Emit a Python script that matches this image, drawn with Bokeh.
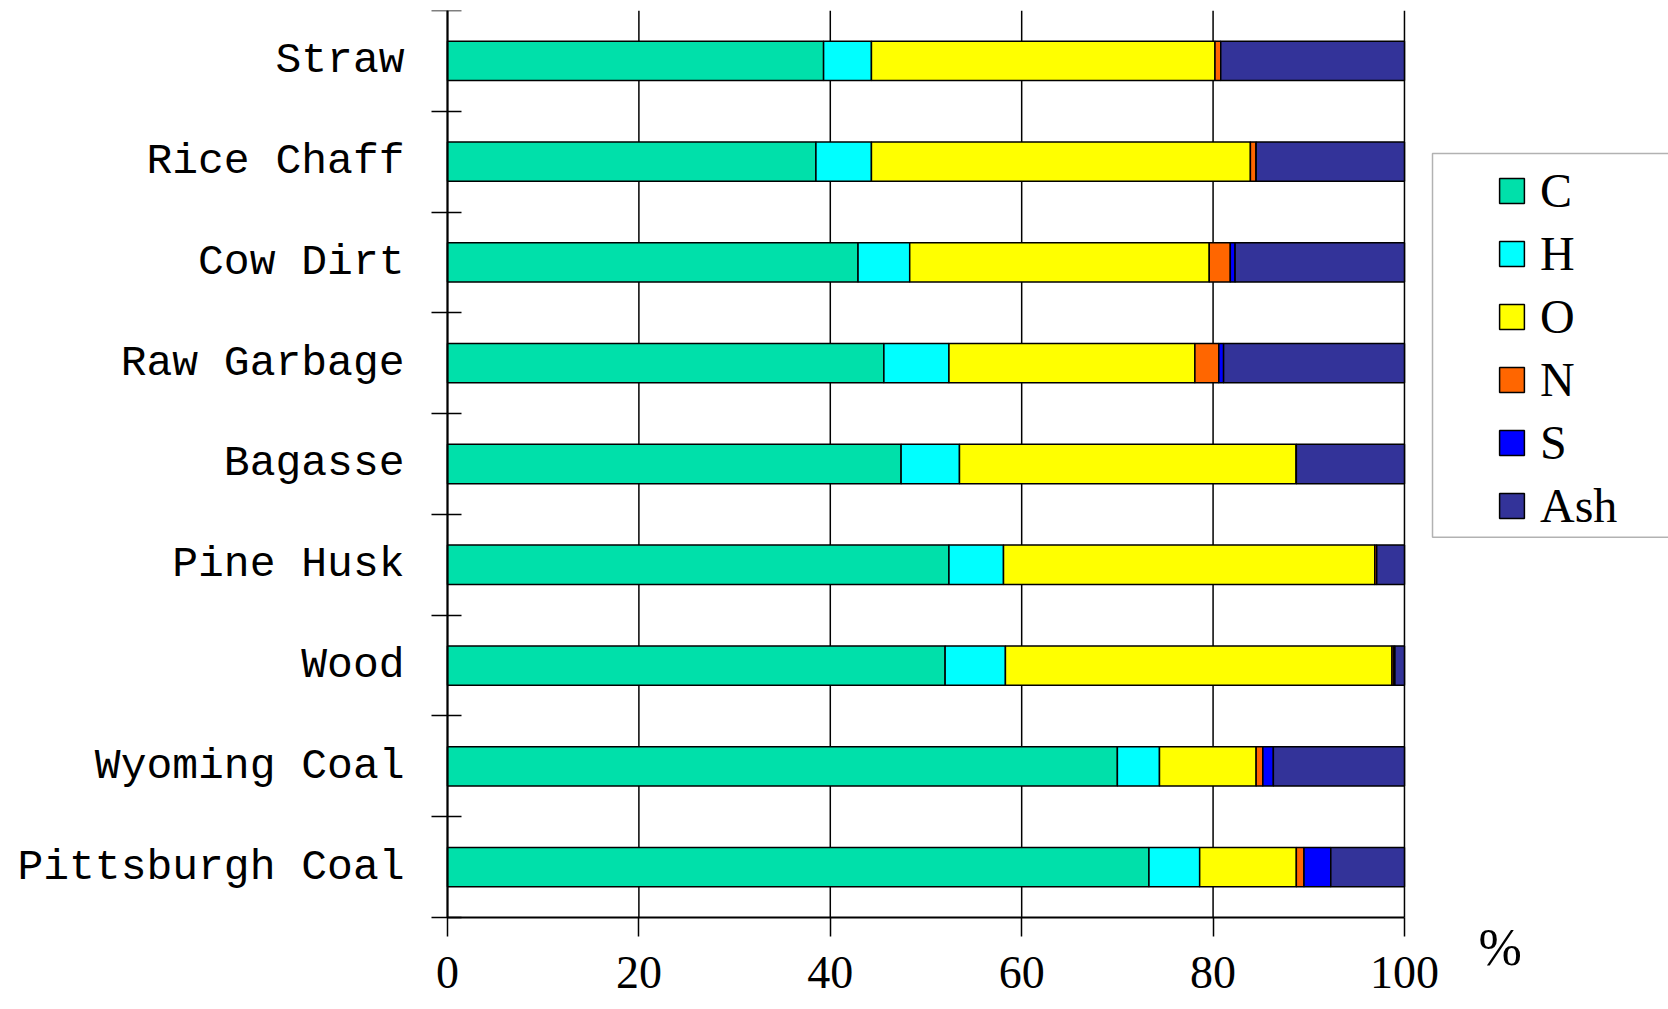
from bokeh.plotting import figure
from bokeh.models import (ColumnDataSource, Range1d, LinearAxis, FixedTicker, Legend,
                          LegendItem, Label, BoxAnnotation)
from bokeh.embed import file_html
from bokeh.resources import INLINE

# ---------------- data ----------------
categories = ["Straw", "Rice Chaff", "Cow Dirt", "Raw Garbage", "Bagasse",
              "Pine Husk", "Wood", "Wyoming Coal", "Pittsburgh Coal"]
elements = ["C", "H", "O", "N", "S", "Ash"]
carbon   = [39.3, 38.5, 42.9, 45.6, 47.4, 52.4, 52.0, 70.0, 73.3]
hydrogen = [5.0, 5.8, 5.4, 6.8, 6.1, 5.7, 6.3, 4.4, 5.3]
oxygen   = [35.9, 39.6, 31.3, 25.7, 35.2, 38.8, 40.4, 10.1, 10.1]
nitrogen = [0.6, 0.6, 2.2, 2.5, 0.0, 0.2, 0.2, 0.7, 0.8]
sulfur   = [0.0, 0.0, 0.5, 0.5, 0.0, 0.0, 0.1, 1.1, 2.8]
ash      = [19.2, 15.5, 17.7, 18.9, 11.3, 2.9, 1.0, 13.7, 7.7]
x_ticks = [0, 20, 40, 60, 80, 100]
x_unit = "%"
colors = ["#00E0AA", "#00FFFF", "#FFFF00", "#FF6600", "#0000FF", "#333399"]

# category slots: first category on top
n = len(categories)
slots = list(range(n - 1, -1, -1))
bounds_y = [i - 0.5 for i in range(n + 1)]

source = ColumnDataSource(dict(slot=slots, cat=categories, C=carbon, H=hydrogen, O=oxygen,
                               N=nitrogen, S=sulfur, Ash=ash))

LABEL_FONT = "Liberation Mono"
SERIF = "Liberation Serif"

p = figure(width=1668, height=1009,
           x_range=Range1d(-46.71, 127.59),
           y_range=Range1d(-1.413, n - 0.5),
           output_backend="svg", toolbar_location=None,
           x_axis_location="below", y_axis_location=None,
           min_border_left=0, min_border_right=0,
           min_border_top=10, min_border_bottom=0)
p.outline_line_color = None
p.background_fill_color = "white"
p.border_fill_color = "white"
p.xgrid.visible = False
p.ygrid.visible = False

# x axis, sitting on the lowest category boundary
xa = p.xaxis[0]
xa.fixed_location = -0.5
xa.bounds = (0, 100)
xa.ticker = FixedTicker(ticks=x_ticks)
xa.major_tick_out = 19
xa.major_tick_in = 0
xa.minor_tick_line_color = None
xa.axis_line_color = "black"
xa.axis_line_width = 2
xa.major_tick_line_color = "black"
xa.major_tick_line_width = 1.5
xa.major_label_text_font = SERIF
xa.major_label_text_font_size = "46px"
xa.major_label_text_color = "black"
xa.major_label_standoff = 21

# y axis at x = 0: labels at category centres, ticks on category boundaries
ya = LinearAxis(ticker=FixedTicker(ticks=slots, minor_ticks=bounds_y),
                fixed_location=0,
                bounds=(-0.5, n - 0.5),
                major_label_overrides={s: c for s, c in zip(slots, categories)},
                major_tick_line_color=None, major_tick_out=0, major_tick_in=0,
                minor_tick_out=16, minor_tick_in=14,
                minor_tick_line_color="black", minor_tick_line_width=1.5,
                axis_line_color="black", axis_line_width=2,
                major_label_standoff=27,
                major_label_text_font=LABEL_FONT,
                major_label_text_font_size="43px",
                major_label_text_color="black")
p.add_layout(ya, "left")

# vertical grid lines at the x ticks, between the outer category boundaries
p.segment(x0=x_ticks, y0=[-0.5] * len(x_ticks), x1=x_ticks, y1=[n - 0.5] * len(x_ticks),
          line_color="black", line_width=1.5)

renderers = p.hbar_stack(elements, y="slot", height=0.39, color=colors,
                         line_color="black", line_width=1.5, source=source)

legend = Legend(items=[LegendItem(label=e, renderers=[r]) for e, r in zip(elements, renderers)],
                location=(1496, 476), padding=0, margin=0,
                border_line_color=None, background_fill_color=None,
                glyph_width=31, glyph_height=31, label_height=31, spacing=8,
                label_standoff=13, label_text_font=SERIF, label_text_font_size="48px",
                label_text_color="black")
p.add_layout(legend, "center")

box = BoxAnnotation(left=102.93, right=200, top=7.081, bottom=3.272,
                    fill_color=None, line_color="black", line_width=1.5)
p.add_layout(box)

pct = Label(x=110.0, y=-0.796, text=x_unit, text_font=SERIF,
            text_font_size="52px", text_align="center", text_baseline="middle",
            text_color="black")
p.add_layout(pct)

open("out.html", "w").write(file_html(p, INLINE))
